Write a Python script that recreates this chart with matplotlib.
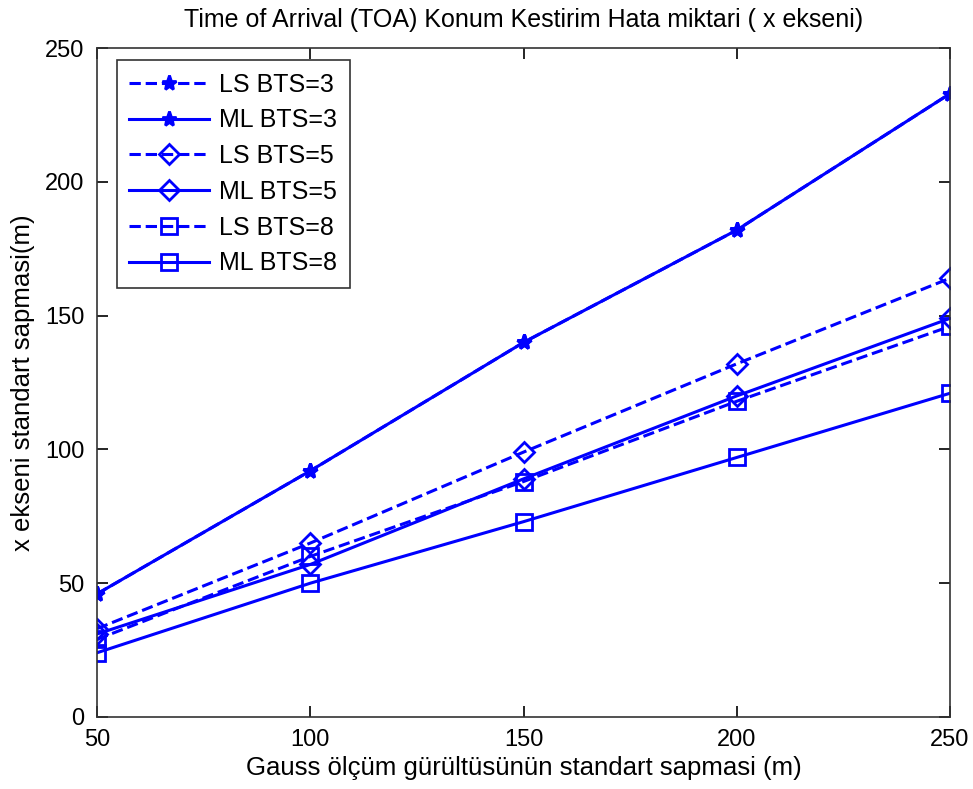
import matplotlib.pyplot as plt

plt.rcParams["font.family"] = ["Liberation Sans", "DejaVu Sans"]

noise_std = [50, 100, 150, 200, 250]

ls_bts3 = [46, 92, 140, 182, 233]
ml_bts3 = [46, 92, 140, 182, 233]
ls_bts5 = [33, 65, 99, 132, 164]
ml_bts5 = [31, 57, 89, 120, 149]
ls_bts8 = [29, 60, 88, 118, 146]
ml_bts8 = [24, 50, 73, 97, 121]

series = [
    ("LS BTS=3", ls_bts3, "--", "*"),
    ("ML BTS=3", ml_bts3, "-", "*"),
    ("LS BTS=5", ls_bts5, "--", "D"),
    ("ML BTS=5", ml_bts5, "-", "D"),
    ("LS BTS=8", ls_bts8, "--", "s"),
    ("ML BTS=8", ml_bts8, "-", "s"),
]

fig = plt.figure(figsize=(9.73, 7.89), dpi=100)
ax = fig.add_axes([0.0997, 0.0913, 0.8767, 0.8477])

for label, values, style, marker in series:
    size = 11 if marker == "*" else (10 if marker == "D" else 12)
    face = "#0000ff" if marker == "*" else "none"
    ax.plot(noise_std, values, linestyle=style, marker=marker, color="#0000ff",
            linewidth=2.2, markersize=size, markerfacecolor=face,
            markeredgewidth=2, label=label)

ax.set_xlim(50, 250)
ax.set_ylim(0, 250)
ax.set_xticks([50, 100, 150, 200, 250])
ax.set_yticks([0, 50, 100, 150, 200, 250])
ax.tick_params(direction="in", top=True, right=True, labelsize=17, length=8,
               width=1.2, pad=9)
for spine in ax.spines.values():
    spine.set_linewidth(1.2)
    spine.set_color("#333333")

ax.set_title("Time of Arrival (TOA) Konum Kestirim Hata miktari ( x ekseni)", fontsize=18, pad=15)
ax.set_xlabel("Gauss ölçüm gürültüsünün standart sapmasi (m)", fontsize=18.5, labelpad=3)
ax.set_ylabel("x ekseni standart sapmasi(m)", fontsize=18.5, labelpad=7)

leg = ax.legend(loc="upper left", bbox_to_anchor=(0.023, 0.982), fontsize=18,
                frameon=True, fancybox=False, edgecolor="black", borderaxespad=0,
                handlelength=3.2, handletextpad=0.4, labelspacing=0.47, borderpad=0.5)
leg.get_frame().set_linewidth(1.2)

fig.savefig("out.png", dpi=100)
